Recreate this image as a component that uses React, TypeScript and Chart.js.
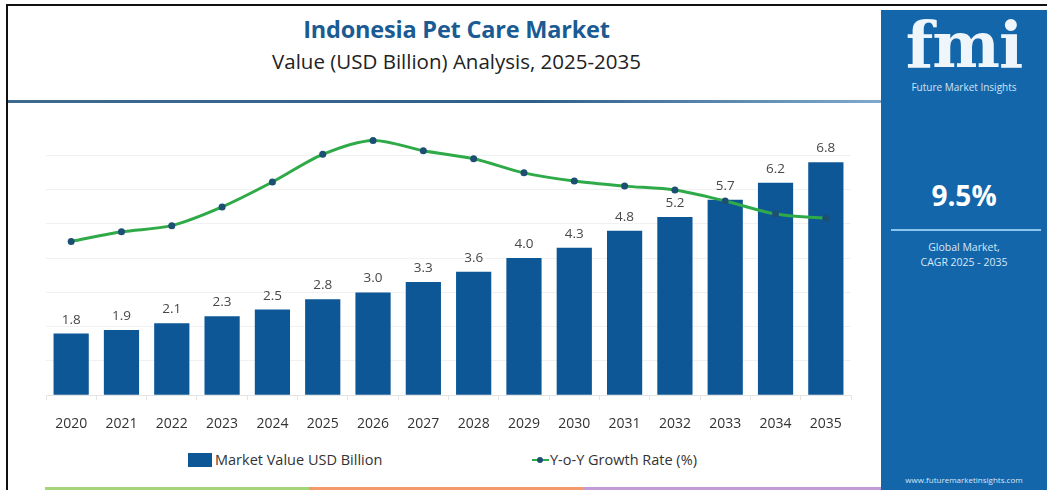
import React, { useEffect, useRef } from "react";
import { Chart, registerables } from "chart.js";

Chart.register(...registerables);

const years: string[] = ["2020","2021","2022","2023","2024","2025","2026","2027","2028","2029","2030","2031","2032","2033","2034","2035"];
const marketValue: number[] = [1.8, 1.9, 2.1, 2.3, 2.5, 2.8, 3.0, 3.3, 3.6, 4.0, 4.3, 4.8, 5.2, 5.7, 6.2, 6.8];
const yoyGrowth: number[] = [6.73, 7.15, 7.42, 8.24, 9.33, 10.54, 11.15, 10.7, 10.35, 9.73, 9.37, 9.15, 8.98, 8.5, 7.93, 7.74];
const valueLabels: string[] = ["1.8","1.9","2.1","2.3","2.5","2.8","3.0","3.3","3.6","4.0","4.3","4.8","5.2","5.7","6.2","6.8"];

const FONT = "'Open Sans', 'DejaVu Sans', sans-serif";
const BAR = "#0d5796";
const GREEN = "#2faa48";

const barLabelPlugin = {
  id: "barLabels",
  afterDatasetsDraw(chart: any) {
    const meta = chart.getDatasetMeta(0);
    const ctx = chart.ctx;
    ctx.save();
    ctx.font = `13.5px ${FONT}`;
    ctx.fillStyle = "#484848";
    ctx.textAlign = "center";
    ctx.textBaseline = "bottom";
    meta.data.forEach((el: any, i: number) => {
      ctx.fillText(valueLabels[i], el.x, el.y - 7);
    });
    ctx.restore();
  },
};

function ChartCanvas() {
  const ref = useRef<HTMLCanvasElement | null>(null);
  useEffect(() => {
    if (!ref.current) return;
    const chart = new Chart(ref.current, {
      type: "bar",
      data: {
        labels: years,
        datasets: [
          {
            type: "bar",
            label: "Market Value USD Billion",
            data: marketValue,
            backgroundColor: BAR,
            barPercentage: 0.7,
            categoryPercentage: 1,
            yAxisID: "y",
            order: 2,
          } as any,
          {
            type: "line",
            label: "Y-o-Y Growth Rate (%)",
            data: yoyGrowth,
            borderColor: GREEN,
            borderWidth: 3,
            tension: 0.3,
            pointRadius: 3.5,
            pointBackgroundColor: "#1d4f73",
            pointBorderColor: "#1d4f73",
            pointBorderWidth: 0,
            yAxisID: "y1",
            order: 1,
          } as any,
        ],
      },
      options: {
        animation: false,
        responsive: false,
        maintainAspectRatio: false,
        layout: { padding: { left: 46, right: 29, top: 13, bottom: 1 } },
        plugins: { legend: { display: false }, tooltip: { enabled: false } },
        scales: {
          x: {
            grid: { display: true, drawOnChartArea: false, offset: true, color: "#e4e4e4", tickLength: 5 },
            border: { display: true, color: "#e4e4e4" },
            ticks: { color: "#333", font: { family: FONT, size: 14 }, padding: 15 },
          },
          y: {
            min: 0,
            max: 8,
            ticks: { display: false, stepSize: 1 },
            grid: {
              drawTicks: false,
              color: (c: any) => (c.tick && (c.tick.value === 0 || c.tick.value === 8) ? "rgba(0,0,0,0)" : "#f1f1f1"),
            },
            border: { display: false },
          },
          y1: {
            display: false,
            min: 0,
            max: 12,
          },
        },
      },
      plugins: [barLabelPlugin],
    });
    return () => chart.destroy();
  }, []);
  return (
    <canvas
      ref={ref}
      width={880}
      height={340}
      style={{ position: "absolute", left: 0, top: 108, width: 880, height: 340 }}
    />
  );
}

export default function App() {
  return (
    <div style={{ position: "fixed", left: 0, top: 0, width: 1047, height: 490, background: "#fff", overflow: "hidden", fontFamily: FONT }}>
      {/* borders */}
      <div style={{ position: "absolute", left: 6, top: 4, width: 1041, height: 2, background: "#111" }} />
      <div style={{ position: "absolute", left: 6, top: 4, width: 2, height: 486, background: "#111" }} />
      {/* title */}
      <div style={{ position: "absolute", left: 20, width: 873, top: 13, textAlign: "center", color: "#1a5b94", fontSize: 23.5, fontWeight: 700, letterSpacing: -0.2 }}>
        Indonesia Pet Care Market
      </div>
      <div style={{ position: "absolute", left: 20, width: 873, top: 47, textAlign: "center", color: "#222", fontSize: 20.5 }}>
        Value (USD Billion) Analysis, 2025-2035
      </div>
      <div style={{ position: "absolute", left: 8, top: 100, width: 873, height: 3, background: "linear-gradient(to right, #3f6a90, #2f5f88 60%, #7fa9cc)" }} />
      <ChartCanvas />
      {/* legend */}
      <div style={{ position: "absolute", left: 188, top: 453, width: 24, height: 14, background: BAR }} />
      <div style={{ position: "absolute", left: 215, top: 450, fontSize: 14.5, color: "#333", lineHeight: "20px" }}>Market Value USD Billion</div>
      <div style={{ position: "absolute", left: 532, top: 459, width: 17, height: 2, background: GREEN }} />
      <div style={{ position: "absolute", left: 537, top: 457, width: 6, height: 6, borderRadius: 3, background: "#1d4f73" }} />
      <div style={{ position: "absolute", left: 550, top: 450, fontSize: 14.5, color: "#333", lineHeight: "20px" }}>Y-o-Y Growth Rate (%)</div>
      {/* bottom strips */}
      <div style={{ position: "absolute", left: 45, top: 487, width: 264, height: 3, background: "#a6d47a" }} />
      <div style={{ position: "absolute", left: 309, top: 487, width: 275, height: 3, background: "#f29a6a" }} />
      <div style={{ position: "absolute", left: 584, top: 487, width: 297, height: 3, background: "#c19ad8" }} />
      {/* right panel */}
      <div style={{ position: "absolute", left: 881, top: 10, width: 166, height: 480, background: "#1466aa", color: "#fff", textAlign: "center" }}>
        <div style={{ position: "absolute", left: 0, width: 166, top: 2, fontSize: 64, fontWeight: 700, fontFamily: "'DejaVu Serif', serif", lineHeight: "66px", color: "#eef5fb", letterSpacing: -1 }}>fmi</div>
        <div style={{ position: "absolute", left: 0, width: 166, top: 70, fontSize: 10, color: "#cfe3f5" }}>Future Market Insights</div>
        <div style={{ position: "absolute", left: 0, width: 166, top: 166, fontSize: 28, fontWeight: 700, lineHeight: "38px" }}>9.5%</div>
        <div style={{ position: "absolute", left: 10, width: 150, top: 219, height: 2, background: "#8cc4ee" }} />
        <div style={{ position: "absolute", left: 0, width: 166, top: 230, fontSize: 10.5, color: "#d4e8f8", lineHeight: "15px" }}>
          Global Market,<br />CAGR 2025 - 2035
        </div>
        <div style={{ position: "absolute", left: 0, width: 166, top: 464, fontSize: 8, color: "#d4e8f8" }}>www.futuremarketinsights.com</div>
      </div>
    </div>
  );
}
